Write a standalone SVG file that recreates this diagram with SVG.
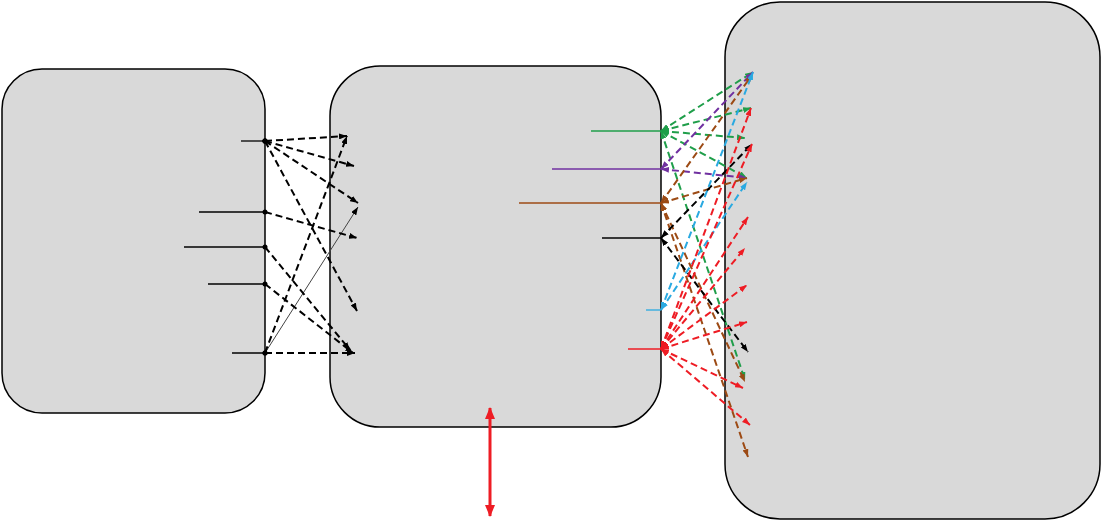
<svg xmlns="http://www.w3.org/2000/svg" width="1102" height="522" viewBox="0 0 1102 522">
<style>
.box{fill:#d9d9d9;stroke:#000;stroke-width:1.5}
.d{fill:none;stroke-width:2;stroke-dasharray:7 4}
.s{fill:none;stroke-width:1.3}
.k{stroke:#000}.g{stroke:#1f9e4a}.p{stroke:#7030a0}.b{stroke:#9c4a14}.c{stroke:#29a9e1}.r{stroke:#ee1c24}
</style>
<defs>
<marker id="ak" viewBox="0 0 8 6" refX="8" refY="3" markerWidth="8" markerHeight="6" markerUnits="userSpaceOnUse" orient="auto-start-reverse"><path d="M0,0 L8,3 L0,6 z" fill="#000"/></marker>
<marker id="ag" viewBox="0 0 8 6" refX="8" refY="3" markerWidth="8" markerHeight="6" markerUnits="userSpaceOnUse" orient="auto-start-reverse"><path d="M0,0 L8,3 L0,6 z" fill="#1f9e4a"/></marker>
<marker id="ap" viewBox="0 0 8 6" refX="8" refY="3" markerWidth="8" markerHeight="6" markerUnits="userSpaceOnUse" orient="auto-start-reverse"><path d="M0,0 L8,3 L0,6 z" fill="#7030a0"/></marker>
<marker id="ab" viewBox="0 0 8 6" refX="8" refY="3" markerWidth="8" markerHeight="6" markerUnits="userSpaceOnUse" orient="auto-start-reverse"><path d="M0,0 L8,3 L0,6 z" fill="#9c4a14"/></marker>
<marker id="ac" viewBox="0 0 8 6" refX="8" refY="3" markerWidth="8" markerHeight="6" markerUnits="userSpaceOnUse" orient="auto-start-reverse"><path d="M0,0 L8,3 L0,6 z" fill="#29a9e1"/></marker>
<marker id="ar" viewBox="0 0 8 6" refX="8" refY="3" markerWidth="8" markerHeight="6" markerUnits="userSpaceOnUse" orient="auto-start-reverse"><path d="M0,0 L8,3 L0,6 z" fill="#ee1c24"/></marker>
<marker id="dot" viewBox="0 0 6 6" refX="3" refY="3" markerWidth="6" markerHeight="6" markerUnits="userSpaceOnUse"><circle cx="3" cy="3" r="2.5" fill="#000"/></marker>
<marker id="big" viewBox="0 0 12 10" refX="11" refY="5" markerWidth="12" markerHeight="10" markerUnits="userSpaceOnUse" orient="auto-start-reverse"><path d="M0,0 L12,5 L0,10 z" fill="#ee1c24"/></marker>
</defs>
<rect width="1102" height="522" fill="#fff"/>
<g id="node-left"><rect class="box" x="2" y="69" width="263" height="344" rx="40"/></g>
<g id="node-middle"><rect class="box" x="330" y="66" width="331" height="361" rx="50"/></g>
<g id="node-right"><rect class="box" x="725" y="2" width="375" height="517" rx="55"/></g>
<g id="connectors">
<g class="k s">
<line x1="241" y1="141" x2="265" y2="141"/>
<line x1="199" y1="212" x2="265" y2="212"/>
<line x1="184" y1="247" x2="265" y2="247"/>
<line x1="208" y1="284" x2="265" y2="284"/>
<line x1="232" y1="353" x2="265" y2="353"/>
<line x1="265" y1="353" x2="358" y2="207" stroke="#444" stroke-width="1" marker-end="url(#ak)"/>
</g>
<g class="k d" marker-start="url(#dot)" marker-end="url(#ak)">
<line x1="265" y1="141" x2="347" y2="136"/>
<line x1="265" y1="141" x2="354" y2="166"/>
<line x1="265" y1="141" x2="358" y2="203"/>
<line x1="265" y1="141" x2="357" y2="311"/>
<line x1="265" y1="212" x2="357" y2="238"/>
<line x1="265" y1="247" x2="350" y2="350"/>
<line x1="265" y1="284" x2="353" y2="353"/>
<line x1="265" y1="353" x2="355" y2="353"/>
<line x1="265" y1="353" x2="347" y2="136"/>
</g>
<g class="s">
<line class="g" x1="591" y1="131" x2="661" y2="131"/>
<line class="p" x1="552" y1="169" x2="661" y2="169"/>
<line class="b" x1="519" y1="203" x2="661" y2="203"/>
<line class="k" x1="602" y1="238" x2="661" y2="238"/>
<line class="c" x1="646" y1="310" x2="661" y2="310"/>
<line class="r" x1="628" y1="349" x2="661" y2="349"/>
</g>
<g class="g d" marker-start="url(#ag)" marker-end="url(#ag)">
<line x1="661" y1="131" x2="753" y2="72"/>
<line x1="661" y1="131" x2="751" y2="108"/>
<line x1="661" y1="131" x2="745" y2="138"/>
<line x1="661" y1="131" x2="747" y2="178"/>
<line x1="661" y1="131" x2="745" y2="380"/>
</g>
<g class="p d" marker-start="url(#ap)" marker-end="url(#ap)">
<line x1="661" y1="169" x2="753" y2="72"/>
<line x1="661" y1="169" x2="747" y2="178"/>
</g>
<g class="b d" marker-start="url(#ab)" marker-end="url(#ab)">
<line x1="661" y1="203" x2="752" y2="75"/>
<line x1="661" y1="203" x2="747" y2="178"/>
<line x1="661" y1="203" x2="745" y2="382"/>
<line x1="661" y1="203" x2="748" y2="457"/>
</g>
<g class="k d" marker-start="url(#ak)" marker-end="url(#ak)">
<line x1="661" y1="238" x2="752" y2="144"/>
<line x1="661" y1="238" x2="748" y2="352"/>
</g>
<g class="c d" marker-start="url(#ac)" marker-end="url(#ac)">
<line x1="661" y1="310" x2="753" y2="72"/>
<line x1="661" y1="310" x2="747" y2="182"/>
</g>
<g class="r d" marker-start="url(#ar)" marker-end="url(#ar)">
<line x1="661" y1="349" x2="751" y2="108"/>
<line x1="661" y1="349" x2="752" y2="144"/>
<line x1="661" y1="349" x2="748" y2="217"/>
<line x1="661" y1="349" x2="745" y2="248"/>
<line x1="661" y1="349" x2="747" y2="285"/>
<line x1="661" y1="349" x2="747" y2="322"/>
<line x1="661" y1="349" x2="743" y2="388"/>
<line x1="661" y1="349" x2="750" y2="425"/>
</g>
<line x1="490" y1="408" x2="490" y2="516" stroke="#ee1c24" stroke-width="3" marker-start="url(#big)" marker-end="url(#big)"/>
</g>
</svg>
